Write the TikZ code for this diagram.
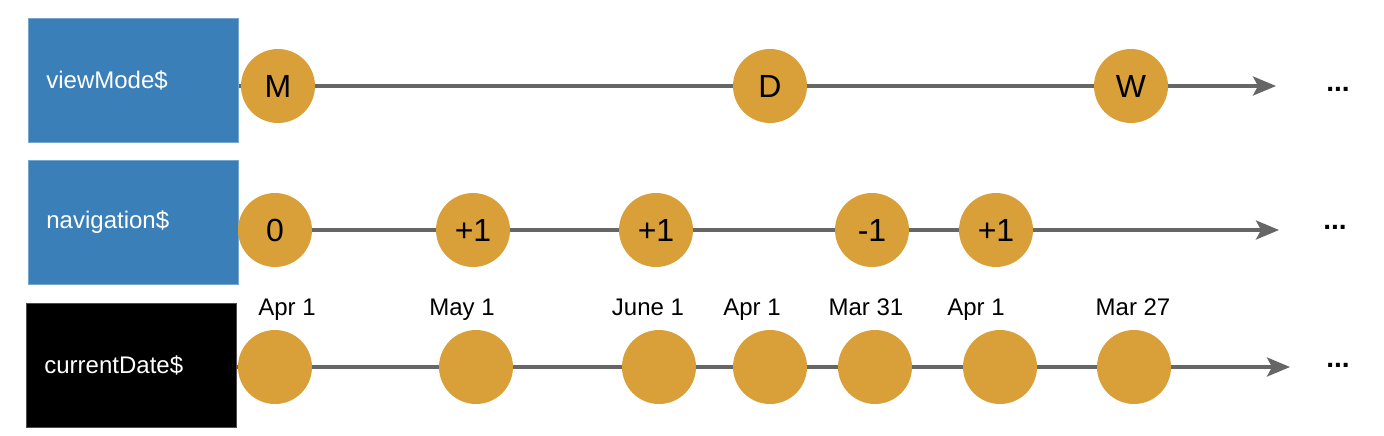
\documentclass[tikz,border=0pt]{standalone}
\usepackage{fontspec}
\setmainfont{Liberation Sans}
\usetikzlibrary{arrows.meta,backgrounds}
\definecolor{evfill}{HTML}{D9A03A}
\definecolor{lanefill}{HTML}{3B7FB8}
\definecolor{wire}{HTML}{666666}
\begin{document}
\begin{tikzpicture}[x=1pt,y=-1pt,
  lane/.style={rectangle, minimum width=210pt, minimum height=124pt,
    text width=174pt, inner xsep=18pt, inner ysep=0pt, align=left,
    anchor=north west, text=white, font=\fontsize{24}{28}\selectfont},
  bluelane/.style={lane, fill=lanefill, draw=lanefill!70!white, line width=0.8pt},
  blacklane/.style={lane, fill=black, draw=black!70!white, line width=0.8pt},
  ev/.style={circle, fill=evfill, minimum size=74pt, inner sep=0pt,
    font=\fontsize{32}{36}\selectfont},
  datelabel/.style={anchor=base, font=\fontsize{24}{28}\selectfont},
  more/.style={anchor=base, font=\bfseries\fontsize{28}{32}\selectfont},
  flow/.style={draw=wire, line width=3.4pt,
    -{Stealth[length=23pt,width=19pt,inset=5pt]}}
]
\useasboundingbox (0,0) rectangle (1384,436);

% lanes
\node[bluelane] (vm) at (28,18) {viewMode\$};
\node[bluelane] (nav) at (28,160) {navigation\$};
\node[blacklane] (cd) at (26,303) {currentDate\$};

% viewMode$ events
\node[ev] (m1) at (278,86) {M};
\node[ev] (m2) at (770,86) {D};
\node[ev] (m3) at (1131,86) {W};
\coordinate (e1) at (1276,86);
\node[more] (d1) at (1338,92) {...};

% navigation$ events
\node[ev] (n1) at (275,230) {0};
\node[ev] (n2) at (473,230) {+1};
\node[ev] (n3) at (656,230) {+1};
\node[ev] (n4) at (872,230) {-1};
\node[ev] (n5) at (996,230) {+1};
\coordinate (e2) at (1279,230);
\node[more] (d2) at (1335,229) {...};

% currentDate$ events
\node[ev] (c1) at (275,367) {};
\node[ev] (c2) at (476,367) {};
\node[ev] (c3) at (659,367) {};
\node[ev] (c4) at (770,367) {};
\node[ev] (c5) at (875,367) {};
\node[ev] (c6) at (1000,367) {};
\node[ev] (c7) at (1134,367) {};
\coordinate (e3) at (1290,367);
\node[more] (d3) at (1338,367) {...};

% date labels
\node[datelabel] (l1) at (287,315) {Apr 1};
\node[datelabel] (l2) at (462,315) {May 1};
\node[datelabel] (l3) at (648,315) {June 1};
\node[datelabel] (l4) at (752,315) {Apr 1};
\node[datelabel] (l5) at (866,315) {Mar 31};
\node[datelabel] (l6) at (976,315) {Apr 1};
\node[datelabel] (l7) at (1133,315) {Mar 27};

\begin{pgfonlayer}{background}
  \fill[white] (0,0) rectangle (1384,436);
  \draw[flow] (m1 -| vm.east) -- (m1) -- (m2) -- (m3) -- (e1);
  \draw[flow] (n1 -| nav.east) -- (n1) -- (n2) -- (n3) -- (n4) -- (n5) -- (e2);
  \draw[flow] (c1 -| cd.east) -- (c1) -- (c2) -- (c3) -- (c4) -- (c5) -- (c6) -- (c7) -- (e3);
\end{pgfonlayer}
\end{tikzpicture}
\end{document}
